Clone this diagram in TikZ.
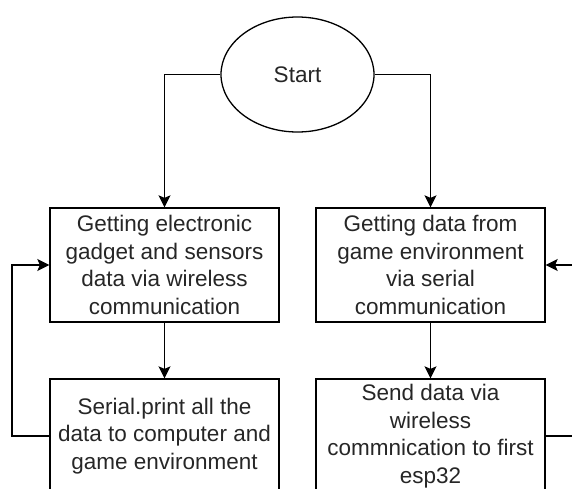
\documentclass[tikz,border=0pt]{standalone}
\usepackage{fontspec}
\setmainfont{Liberation Sans}
\usetikzlibrary{shapes.geometric,arrows.meta}
\begin{document}
\begin{tikzpicture}[x=1pt,y=-1pt,
  every node/.style={font=\fontsize{22.5}{27.5}\selectfont, text=black!85, align=center, inner sep=0pt},
  procbox/.style={draw, line width=1.3pt, minimum width=229pt, minimum height=114pt},
  startshape/.style={draw, ellipse, line width=1.3pt, minimum width=153pt, minimum height=115pt},
  conn/.style={draw, line width=1.5pt},
  arr/.style={conn, -{Stealth[length=12pt,width=12pt,inset=2.5pt]}}]
\useasboundingbox (0,0) rectangle (572,488);
\node[startshape] (start) at (297.5,74.5) {Start};
\node[procbox] (b1) at (164.5,265) {Getting electronic\\gadget and sensors\\data via wireless\\communication};
\node[procbox] (b2) at (164.5,436) {Serial.print all the\\data to computer and\\game environment};
\node[procbox] (b3) at (430.5,265) {Getting data from\\game environment\\via serial\\communication};
\node[procbox] (b4) at (430.5,436) {Send data via\\wireless\\commnication to first\\esp32};
\coordinate (lc1) at (12,436);
\coordinate (lc2) at (12,265);
\coordinate (rc1) at (595,436);
\coordinate (rc2) at (595,265);
\draw[arr] (start.west) -| (b1.north);
\draw[arr] (start.east) -| (b3.north);
\draw[arr] (b1.south) -- (b2.north);
\draw[arr] (b3.south) -- (b4.north);
\draw[arr] (b2.west) -- (lc1) -- (lc2) -- (b1.west);
\draw[arr] (b4.east) -- (rc1) -- (rc2) -- (b3.east);
\end{tikzpicture}
\end{document}
